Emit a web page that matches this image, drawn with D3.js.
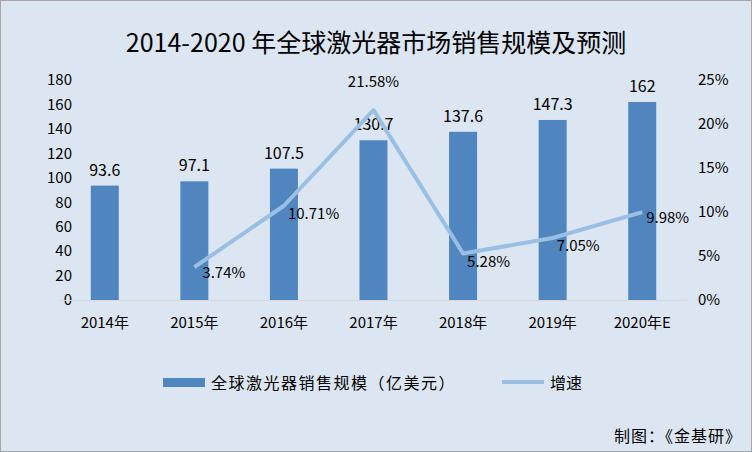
<!DOCTYPE html>
<html><head><meta charset="utf-8">
<script src="https://cdn.jsdelivr.net/npm/d3@7"></script>
<style>body{margin:0;background:#fff}</style>
</head><body><div id="chart"></div>
<script>
var categories = ["2014年","2015年","2016年","2017年","2018年","2019年","2020年E"];
var sales = [93.6, 97.1, 107.5, 130.7, 137.6, 147.3, 162];
var growth = [null, 3.74, 10.71, 21.58, 5.28, 7.05, 9.98];
var leftTicks = [0,20,40,60,80,100,120,140,160,180];
var rightTicks = [0,5,10,15,20,25];

var width = 752, height = 452;
var font = "'Noto Sans CJK SC','Noto Sans',sans-serif";
var svg = d3.select("#chart").append("svg").attr("width", width).attr("height", height)
    .style("font-family", font);
svg.append("rect").attr("x",0.5).attr("y",0.5).attr("width",width-1).attr("height",height-1)
    .attr("fill","#dce6f2").attr("stroke","#a6a6a6");

svg.append("text").attr("x",376).attr("y",52).attr("text-anchor","middle")
    .attr("font-size",25).attr("fill","#000").text("2014-2020 年全球激光器市场销售规模及预测");

var x = d3.scaleBand().domain(categories).range([60,687]);
var y = d3.scaleLinear().domain([0,180]).range([300,80]);
var y2 = d3.scaleLinear().domain([0,25]).range([300,80]);

var yAxis = d3.axisLeft(y).tickValues(leftTicks).tickSize(0).tickPadding(0);
svg.append("g").attr("transform","translate(72,0)").call(yAxis)
  .call(g => g.select(".domain").remove())
  .selectAll("text").attr("font-size",15).attr("font-family",font).attr("fill","#000");
var y2Axis = d3.axisRight(y2).tickValues(rightTicks).tickSize(0).tickPadding(0)
  .tickFormat(d => d + "%");
svg.append("g").attr("transform","translate(698,0)").call(y2Axis)
  .call(g => g.select(".domain").remove())
  .selectAll("text").attr("font-size",15).attr("font-family",font).attr("fill","#000");
var xAxis = d3.axisBottom(x).tickSize(0).tickPadding(17);
svg.append("g").attr("transform","translate(0,300)").call(xAxis)
  .call(g => g.select(".domain").attr("stroke","#d9d9d9"))
  .selectAll("text").attr("font-size",15).attr("font-family",font).attr("fill","#000");

var bw = 28;
svg.selectAll("rect.bar").data(sales).enter().append("rect").attr("class","bar")
  .attr("x",(d,i)=>x(categories[i])+x.bandwidth()/2-bw/2)
  .attr("y",d=>y(d)).attr("width",bw).attr("height",d=>300-y(d))
  .attr("fill","#4f86c0");
svg.selectAll("text.bl").data(sales).enter().append("text").attr("class","bl")
  .attr("x",(d,i)=>x(categories[i])+x.bandwidth()/2).attr("y",d=>y(d)-10)
  .attr("text-anchor","middle").attr("font-size",16).text(d=>d);

var pts = growth.map((g,i)=>({g:g,c:categories[i]})).filter(d=>d.g!==null);
var line = d3.line().x(d=>x(d.c)+x.bandwidth()/2).y(d=>y2(d.g));
svg.append("path").datum(pts).attr("d",line).attr("fill","none")
  .attr("stroke","#9bbfe3").attr("stroke-width",4).attr("stroke-linejoin","round");
var offs = {"2015年":[8,6,"start"],"2016年":[4,8,"start"],"2017年":[0,-28,"middle"],
            "2018年":[4,8,"start"],"2019年":[4,8,"start"],"2020年E":[4,6,"start"]};
svg.selectAll("text.gl").data(pts).enter().append("text").attr("class","gl")
  .attr("x",d=>x(d.c)+x.bandwidth()/2+offs[d.c][0]).attr("y",d=>y2(d.g)+offs[d.c][1]+5)
  .attr("text-anchor",d=>offs[d.c][2]).attr("font-size",15).text(d=>d.g.toFixed(2)+"%");

var lg = svg.append("g").attr("font-size",16);
lg.append("rect").attr("x",163).attr("y",378).attr("width",42).attr("height",9).attr("fill","#4f86c0");
lg.append("text").attr("x",211).attr("y",389).attr("letter-spacing",1.5).text("全球激光器销售规模（亿美元）");
lg.append("line").attr("x1",502).attr("x2",544).attr("y1",382).attr("y2",382)
  .attr("stroke","#9bbfe3").attr("stroke-width",4);
lg.append("text").attr("x",550).attr("y",389).text("增速");
svg.append("text").attr("x",742).attr("y",442).attr("text-anchor","end").attr("font-size",16)
  .attr("letter-spacing",1).text("制图：《金基研》");
</script></body></html>
